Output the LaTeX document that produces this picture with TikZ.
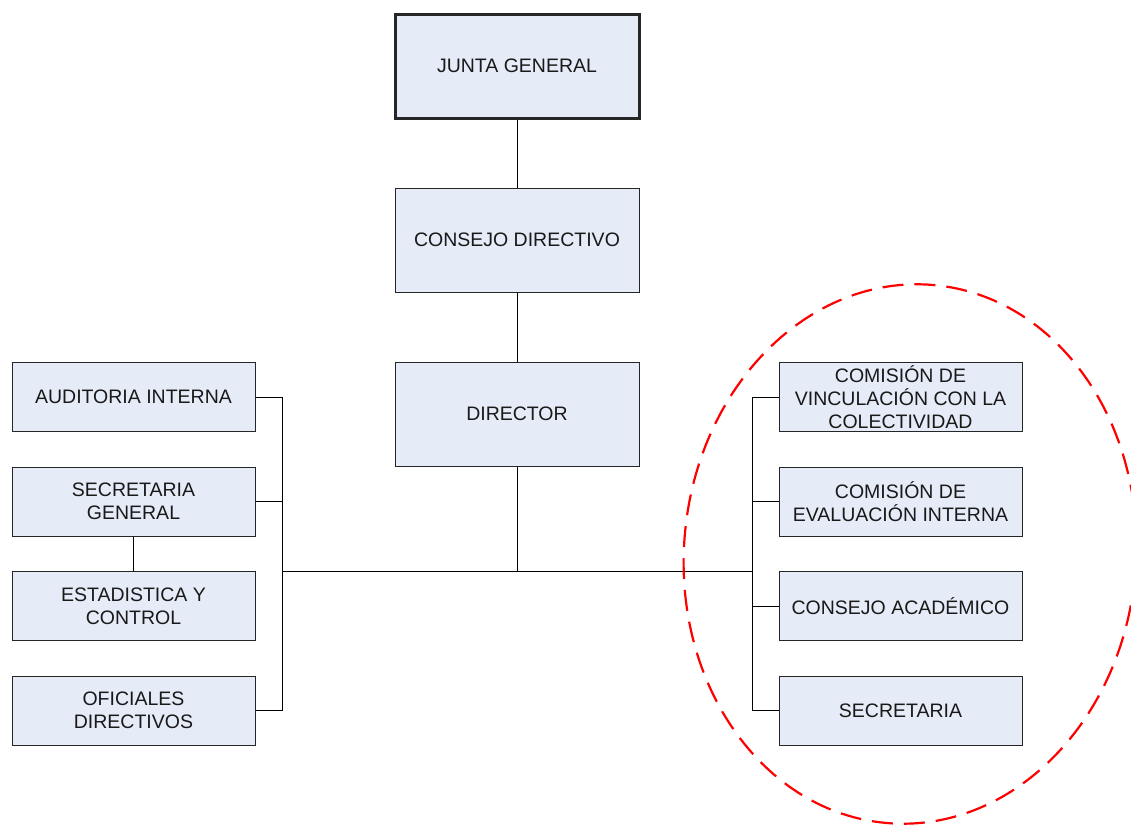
\documentclass[tikz,border=0pt]{standalone}
\usepackage{fontspec}
\setmainfont{Liberation Sans}
\begin{document}
\begin{tikzpicture}[x=1pt,y=-1pt,
  box/.style={draw=black!85, line width=1pt, fill=boxfill, inner sep=2pt, align=center,
    font=\fontsize{19.5}{23}\selectfont, text=black!90},
  bigbox/.style={box, minimum width=244pt, minimum height=104pt},
  smallbox/.style={box, minimum width=243pt, minimum height=69pt},
  link/.style={draw=black, line width=1pt},
  ring/.style={draw=red, line width=2.2pt, dash pattern=on 21pt off 11pt}]
\definecolor{boxfill}{RGB}{230,236,247}
\useasboundingbox (0,0) rectangle (1131,825);
% top chain
\node[bigbox, line width=3pt] (jg) at (517,66) {JUNTA GENERAL};
\node[bigbox] (cd) at (517,240) {CONSEJO DIRECTIVO};
\node[bigbox] (dir) at (517,414) {DIRECTOR};
% left
\node[smallbox] (ai) at (133.5,397) {AUDITORIA INTERNA};
\node[smallbox] (sg) at (133.5,501.5) {SECRETARIA\\GENERAL};
\node[smallbox] (ec) at (133.5,606) {ESTADISTICA Y\\CONTROL};
\node[smallbox] (od) at (133.5,710.5) {OFICIALES\\DIRECTIVOS};
% right
\node[smallbox] (cv) at (900.5,397) {COMISIÓN DE\\VINCULACIÓN CON LA\\COLECTIVIDAD};
\node[smallbox] (ce) at (900.5,501.5) {COMISIÓN DE\\EVALUACIÓN INTERNA};
\node[smallbox] (ca) at (900.5,606) {CONSEJO ACADÉMICO};
\node[smallbox] (se) at (900.5,710.5) {SECRETARIA};
% junctions
\coordinate (hub) at (517,571);
\coordinate (lb) at (282,571);
\coordinate (rb) at (752,571);
% connectors
\draw[link] (jg.south) -- (cd.north);
\draw[link] (cd.south) -- (dir.north);
\draw[link] (dir.south) -- (hub);
\draw[link] (lb) -- (rb);
\draw[link] (ai.east) -| (lb);
\draw[link] (sg.east) -| (lb);
\draw[link] (od.east) -| (lb);
\draw[link] (sg.south) -- (ec.north);
\draw[link] (cv.west) -| (rb);
\draw[link] (ce.west) -| (rb);
\draw[link] (ca.west) -| (rb);
\draw[link] (se.west) -| (rb);
% dashed ellipse
\coordinate (ec0) at (910,554);
\draw[ring, rotate around={-5:(ec0)}] (ec0) ellipse [x radius=226, y radius=270];
\end{tikzpicture}
\end{document}
